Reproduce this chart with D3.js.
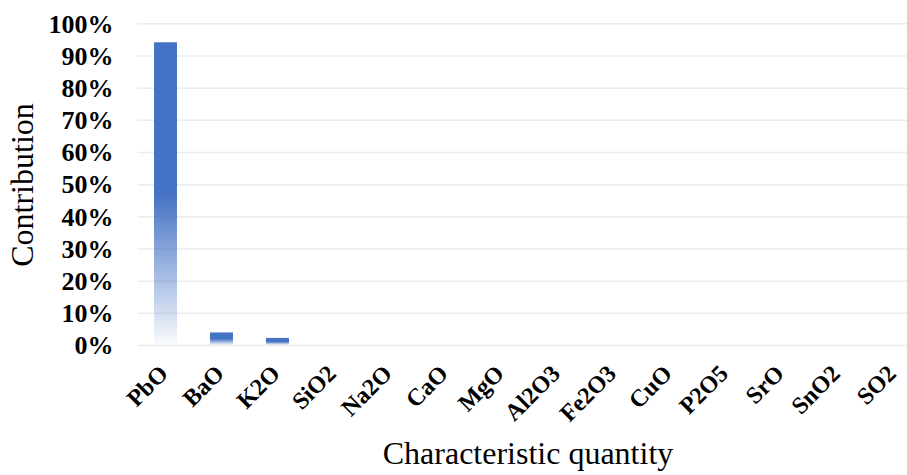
<!DOCTYPE html>
<html>
<head>
<meta charset="utf-8">
<script src="https://cdn.jsdelivr.net/npm/d3@7"></script>
<style>
  html, body { margin: 0; padding: 0; background: #fff; }
  svg { display: block; }
</style>
</head>
<body>
<svg id="chart" width="907" height="475"></svg>
<script>
// Oxide contribution data
const categories = ["PbO", "BaO", "K2O", "SiO2", "Na2O", "CaO", "MgO", "Al2O3", "Fe2O3", "CuO", "P2O5", "SrO", "SnO2", "SO2"];
const contribution = [0.941, 0.039, 0.022, 0, 0, 0, 0, 0, 0, 0, 0, 0, 0, 0];
const yTicks = [0, 0.1, 0.2, 0.3, 0.4, 0.5, 0.6, 0.7, 0.8, 0.9, 1.0];

const serif = "'Liberation Serif', 'Times New Roman', serif";
const svg = d3.select("#chart");
const plot = { left: 137.5, top: 23.3, bottom: 345, step: 56 };

const x = d3.scaleBand()
  .domain(categories)
  .range([plot.left, plot.left + plot.step * categories.length])
  .paddingInner(0.59)
  .paddingOuter(0.295);

const y = d3.scaleLinear().domain([0, 1]).range([plot.bottom, plot.top]);

// Bar fill: solid blue over the upper half, fading towards white at the base
const defs = svg.append("defs");
const grad = defs.append("linearGradient")
  .attr("id", "barFade")
  .attr("x1", 0).attr("y1", 0).attr("x2", 0).attr("y2", 1);
grad.append("stop").attr("offset", "0").attr("stop-color", "#4472C4").attr("stop-opacity", 1);
grad.append("stop").attr("offset", "0.5").attr("stop-color", "#4472C4").attr("stop-opacity", 1);
grad.append("stop").attr("offset", "1").attr("stop-color", "#4472C4").attr("stop-opacity", 0.03);

// Horizontal gridlines and percentage labels
const yAxis = d3.axisLeft(y)
  .tickValues(yTicks)
  .tickFormat(d3.format(".0%"))
  .tickSize(-(907 - plot.left + 20))
  .tickPadding(24);

const yg = svg.append("g")
  .attr("transform", `translate(${plot.left},0)`)
  .call(yAxis);
yg.select(".domain").remove();
yg.selectAll(".tick line").attr("stroke", "#ececec").attr("stroke-width", 1.5);
yg.selectAll(".tick text")
  .attr("fill", "#000")
  .style("font-family", serif)
  .style("font-weight", "bold")
  .style("font-size", "26px")
  .attr("dy", "0.34em");

// Bars
svg.append("g").selectAll("rect")
  .data(categories.map((c, i) => ({ c, v: contribution[i] })))
  .join("rect")
  .attr("x", d => x(d.c))
  .attr("y", d => y(d.v))
  .attr("width", x.bandwidth())
  .attr("height", d => plot.bottom - y(d.v))
  .attr("fill", "url(#barFade)");

// Category axis with rotated labels
const xAxis = d3.axisBottom(x).tickSize(0).tickPadding(0);
const xg = svg.append("g")
  .attr("transform", `translate(0,${plot.bottom})`)
  .call(xAxis);
xg.select(".domain").remove();
xg.selectAll(".tick text")
  .attr("fill", "#000")
  .style("font-family", serif)
  .style("font-weight", "bold")
  .style("font-size", "24px")
  .attr("text-anchor", "end")
  .attr("dy", null)
  .attr("y", 0)
  .attr("transform", "translate(4,30) rotate(-45)");

// Axis titles
svg.append("text")
  .attr("x", 528)
  .attr("y", 464)
  .attr("text-anchor", "middle")
  .style("font-family", serif)
  .style("font-size", "32px")
  .text("Characteristic quantity");

svg.append("text")
  .attr("transform", "translate(33,185) rotate(-90)")
  .attr("text-anchor", "middle")
  .style("font-family", serif)
  .style("font-size", "32px")
  .text("Contribution");
</script>
</body>
</html>
